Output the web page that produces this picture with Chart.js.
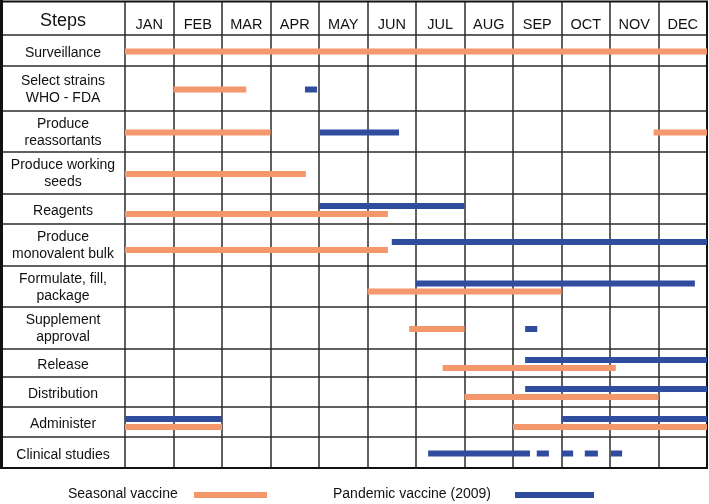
<!DOCTYPE html>
<html><head><meta charset="utf-8">
<script src="https://cdn.jsdelivr.net/npm/chart.js@4/dist/chart.umd.min.js"></script>
<style>html,body{margin:0;padding:0;background:#fff}canvas{display:block}</style>
</head><body>
<canvas id="c" width="709" height="504"></canvas>
<script>
// ---------- DATA ----------
const months = ["JAN","FEB","MAR","APR","MAY","JUN","JUL","AUG","SEP","OCT","NOV","DEC"];
const headerLabel = "Steps";
const steps = [
  ["Surveillance"],
  ["Select strains","WHO - FDA"],
  ["Produce","reassortants"],
  ["Produce working","seeds"],
  ["Reagents"],
  ["Produce","monovalent bulk"],
  ["Formulate, fill,","package"],
  ["Supplement","approval"],
  ["Release"],
  ["Distribution"],
  ["Administer"],
  ["Clinical studies"]
];
const seriesNames = ["Seasonal vaccine","Pandemic vaccine (2009)"];
// [step index, start month, end month]  (0 = start of JAN, 12 = end of DEC)
const seasonal = [
  [0,0,12],[1,1,2.5],[2,0,3],[2,10.9,12],[3,0,3.73],[4,0,5.42],[5,0,5.42],
  [6,5,9],[7,5.86,7],[8,6.55,10.12],[9,7,11],[10,0,2],[10,8,12]
];
const pandemic = [
  [1,3.71,3.96],[2,4.02,5.65],[4,4,7],[5,5.5,12],[6,6,11.75],[7,8.25,8.5],
  [8,8.25,12],[9,8.25,12],[10,0,2],[10,9,12],
  [11,6.25,8.35],[11,8.49,8.74],[11,9.01,9.24],[11,9.48,9.75],[11,10.02,10.25]
];

// ---------- LAYOUT / STYLE ----------
const HEADER_H = 34;
const ROW_H = [31,45,41,42,30,42,41,42,28,30,30,31];
const STEP_COL = 2.557;           // width of the "Steps" column in month units
const COLORS = ["#F4976B","#2F4C9F"];
const FONT = '"Liberation Sans", Arial, sans-serif';

const rowTop = [];
{ let acc = HEADER_H; ROW_H.forEach(h => { rowTop.push(acc); acc += h; }); }
const TOTAL = HEADER_H + ROW_H.reduce((a,b)=>a+b,0);
const rowCenter = i => rowTop[i] + ROW_H[i]/2;

// rows where both series sit close together are split into two lanes
function split(row){
  const s = seasonal.filter(d=>d[0]===row), p = pandemic.filter(d=>d[0]===row);
  return s.some(a => p.some(b => Math.max(a[1],b[1]) - Math.min(a[2],b[2]) < 0.5));
}
const datasets = [];
[seasonal, pandemic].forEach((arr, si) => {
  arr.forEach(([r,s,e]) => {
    const lane = split(r) ? (si===0 ? 4 : -4) : 0;
    const yv = rowCenter(r) + 1 + lane;
    datasets.push({
      label: seriesNames[si],
      data: [{x:s,y:yv},{x:e,y:yv}],
      showLine: true, borderColor: COLORS[si], backgroundColor: COLORS[si],
      borderWidth: 6, pointRadius: 0, borderCapStyle: 'butt', tension: 0
    });
  });
});

function seg(ctx,x1,y1,x2,y2){ctx.beginPath();ctx.moveTo(x1,y1);ctx.lineTo(x2,y2);ctx.stroke();}

const tablePlugin = {
  id: 'table',
  beforeDatasetsDraw(chart){
    const {ctx, chartArea:a, scales:{x,y}} = chart;
    ctx.save();
    ctx.strokeStyle = '#2b2b2b'; ctx.lineWidth = 1.5;
    const bounds = [HEADER_H, ...rowTop.slice(1)];
    bounds.forEach(v => { const py = Math.round(y.getPixelForValue(v)); seg(ctx,a.left,py,a.right,py); });
    for (let m=0; m<12; m++){ const px = Math.round(x.getPixelForValue(m)); seg(ctx,px,a.top,px,a.bottom); }
    ctx.strokeStyle = '#111';
    ctx.lineWidth = 3; seg(ctx,a.left+0.5,a.top-1,a.left+0.5,a.bottom+1);
    ctx.lineWidth = 2;
    seg(ctx,a.left,a.top+0.5,a.right+1,a.top+0.5);
    seg(ctx,a.right,a.top,a.right,a.bottom+1);
    seg(ctx,a.left,a.bottom,a.right+1,a.bottom);

    ctx.fillStyle = '#111'; ctx.textAlign = 'center'; ctx.textBaseline = 'middle';
    const colMid = x.getPixelForValue(-STEP_COL/2);
    ctx.font = '18px ' + FONT;
    ctx.fillText(headerLabel, colMid, y.getPixelForValue(20.5));
    ctx.font = '14.5px ' + FONT;
    months.forEach((m,i) => ctx.fillText(m, x.getPixelForValue(i+0.5), y.getPixelForValue(23.5)));
    ctx.font = '14px ' + FONT;
    steps.forEach((lines,i) => {
      const c = rowCenter(i) + (lines.length===1 ? 2.5 : 1);
      const lh = 17;
      lines.forEach((t,k) => ctx.fillText(t, colMid, y.getPixelForValue(c + (k - (lines.length-1)/2)*lh)));
    });
    ctx.restore();
  },
  afterDraw(chart){
    const {ctx} = chart;
    ctx.save();
    ctx.fillStyle = '#111'; ctx.textBaseline = 'middle'; ctx.textAlign = 'left';
    ctx.font = '14px ' + FONT;
    const items = [{tx:68, l1:194, l2:267},{tx:333, l1:515, l2:594}];
    items.forEach((it,i) => {
      ctx.fillText(seriesNames[i], it.tx, 494);
      ctx.strokeStyle = COLORS[i]; ctx.lineWidth = 6; ctx.lineCap = 'butt';
      seg(ctx, it.l1, 495, it.l2, 495);
    });
    ctx.restore();
  }
};

new Chart(document.getElementById('c'), {
  type: 'scatter',
  data: { datasets },
  options: {
    responsive: false, animation: false,
    layout: { padding: { left: 1, right: 2, top: 1, bottom: 36 } },
    plugins: { legend: { display: false }, tooltip: { enabled: false } },
    scales: {
      x: { type: 'linear', min: -STEP_COL, max: 12, display: false },
      y: { type: 'linear', min: 0, max: TOTAL, reverse: true, display: false }
    }
  },
  plugins: [tablePlugin]
});
</script>
</body></html>
